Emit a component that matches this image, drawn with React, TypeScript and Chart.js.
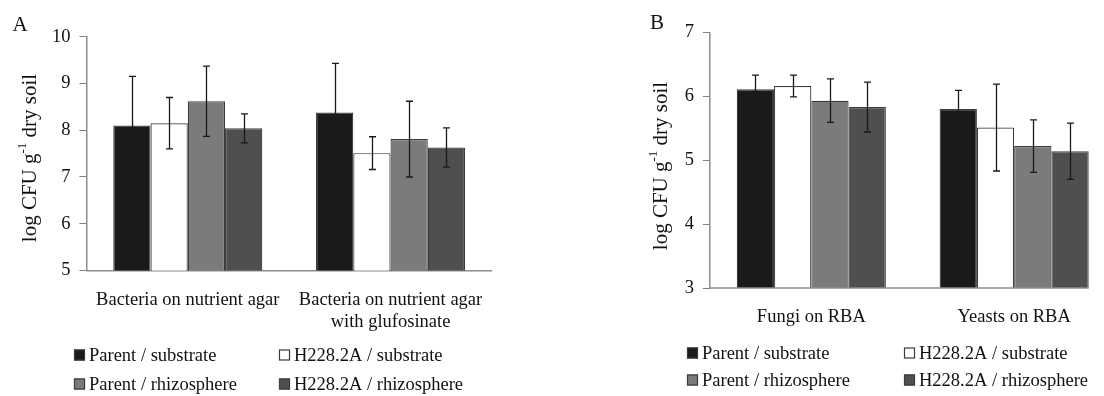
import React, { useEffect, useRef } from 'react';
import { Chart, registerables } from 'chart.js';

Chart.register(...registerables);

const FONT = '"Liberation Serif", "Times New Roman", serif';
const TEXT = '#111111';

// ---- shared series ----
const seriesLabels = ['Parent / substrate', 'H228.2A / substrate', 'Parent / rhizosphere', 'H228.2A / rhizosphere'];
const seriesColors = ['#1a1a1a', '#ffffff', '#7b7b7b', '#4f4f4f'];

// ---- panel A ----
const categoriesA = [['Bacteria on nutrient agar'], ['Bacteria on nutrient agar', 'with glufosinate']];
const parentSubstrateA = [8.10, 8.38];
const h228SubstrateA = [8.15, 7.51];
const parentRhizoA = [8.62, 7.81];
const h228RhizoA = [8.04, 7.63];
const parentSubstrateErrA = [1.05, 1.05];
const h228SubstrateErrA = [0.55, 0.35];
const parentRhizoErrA = [0.75, 0.81];
const h228RhizoErrA = [0.31, 0.42];
const yMinA = 5;
const yMaxA = 10;

// ---- panel B ----
const categoriesB = ['Fungi on RBA', 'Yeasts on RBA'];
const parentSubstrateB = [6.11, 5.80];
const h228SubstrateB = [6.16, 5.51];
const parentRhizoB = [5.93, 5.22];
const h228RhizoB = [5.83, 5.14];
const parentSubstrateErrB = [0.22, 0.29];
const h228SubstrateErrB = [0.17, 0.68];
const parentRhizoErrB = [0.34, 0.41];
const h228RhizoErrB = [0.39, 0.44];
const yMinB = 3;
const yMaxB = 7;

const yTitleMain1 = 'log CFU g';
const yTitleSup = '-1';
const yTitleMain2 = ' dry soil';

const errorBarPlugin = {
  id: 'errorBars',
  afterDatasetsDraw(chart: any, _args: any, opts: any) {
    const { ctx } = chart;
    const y = chart.scales.y;
    ctx.save();
    ctx.strokeStyle = opts.color || '#333';
    ctx.lineWidth = opts.width || 1.3;
    const cap = opts.cap || 3.5;
    chart.data.datasets.forEach((ds: any, di: number) => {
      const meta = chart.getDatasetMeta(di);
      meta.data.forEach((bar: any, i: number) => {
        const v = ds.data[i];
        const e = ds.errors[i];
        const top = y.getPixelForValue(v + e);
        const bot = y.getPixelForValue(v - e);
        const x = Math.round(bar.x) + 0.5;
        ctx.beginPath();
        ctx.moveTo(x, top);
        ctx.lineTo(x, bot);
        ctx.moveTo(x - cap, top);
        ctx.lineTo(x + cap, top);
        ctx.moveTo(x - cap, bot);
        ctx.lineTo(x + cap, bot);
        ctx.stroke();
      });
    });
    ctx.restore();
  },
};

const baselinePlugin = {
  id: 'baseline',
  afterDatasetsDraw(chart: any, _args: any, opts: any) {
    if (!opts || !opts.enabled) return;
    const { ctx, chartArea } = chart;
    const last = chart.getDatasetMeta(chart.data.datasets.length - 1);
    const lastBar = last.data[last.data.length - 1];
    const right = lastBar.x + lastBar.width / 2;
    ctx.save();
    ctx.strokeStyle = opts.color;
    ctx.lineWidth = opts.width;
    ctx.beginPath();
    ctx.moveTo(chartArea.left, chartArea.bottom);
    ctx.lineTo(right, chartArea.bottom);
    ctx.stroke();
    ctx.restore();
  },
};

const decorPlugin = {
  id: 'decor',
  afterDraw(chart: any, _args: any, opts: any) {
    const { ctx } = chart;
    ctx.save();
    // panel letter
    ctx.fillStyle = TEXT;
    ctx.font = `${opts.letterSize}px ${FONT}`;
    ctx.textAlign = 'center';
    ctx.textBaseline = 'middle';
    ctx.fillText(opts.letter, opts.letterX, opts.letterY);

    // rotated y-axis title with superscript
    const fs = opts.titleSize;
    const ss = fs * 0.62;
    ctx.font = `${fs}px ${FONT}`;
    const w1 = ctx.measureText(yTitleMain1).width;
    const w3 = ctx.measureText(yTitleMain2).width;
    ctx.font = `${ss}px ${FONT}`;
    const w2 = ctx.measureText(yTitleSup).width;
    const total = w1 + w2 + w3;
    ctx.translate(opts.titleX, opts.titleY);
    ctx.rotate(-Math.PI / 2);
    ctx.textAlign = 'left';
    ctx.textBaseline = 'middle';
    let x = -total / 2;
    ctx.font = `${fs}px ${FONT}`;
    ctx.fillText(yTitleMain1, x, 0);
    x += w1;
    ctx.font = `${ss}px ${FONT}`;
    ctx.fillText(yTitleSup, x, -fs * 0.33);
    x += w2;
    ctx.font = `${fs}px ${FONT}`;
    ctx.fillText(yTitleMain2, x, 0);
    ctx.restore();

    // legend (2 x 2)
    ctx.save();
    ctx.font = `${opts.legendSize}px ${FONT}`;
    ctx.textAlign = 'left';
    ctx.textBaseline = 'middle';
    const box = 11;
    chart.data.datasets.forEach((ds: any, i: number) => {
      const bx = opts.legendCols[i % 2];
      const by = opts.legendRows[Math.floor(i / 2)];
      ctx.fillStyle = ds.backgroundColor;
      ctx.fillRect(bx, by - box / 2, box, box);
      ctx.strokeStyle = '#3a3a3a';
      ctx.lineWidth = 1.2;
      ctx.strokeRect(bx + 0.5, by - box / 2 + 0.5, box - 1, box - 1);
      ctx.fillStyle = TEXT;
      ctx.fillText(ds.label, bx + box + 4, by + 1);
    });
    ctx.restore();
  },
};

type PanelSpec = {
  categories: any[];
  values: number[][];
  errors: number[][];
  yMin: number;
  yMax: number;
  width: number;
  height: number;
  area: { left: number; right: number; top: number; bottom: number };
  cutBaseline: boolean;
  decor: any;
};

function Panel({ spec, left }: { spec: PanelSpec; left: number }) {
  const ref = useRef<HTMLCanvasElement | null>(null);
  useEffect(() => {
    if (!ref.current) return;
    const { area, width, height } = spec;
    const chart = new Chart(ref.current, {
      type: 'bar',
      data: {
        labels: spec.categories,
        datasets: seriesLabels.map((label, i) => ({
          label,
          data: spec.values[i],
          errors: spec.errors[i],
          backgroundColor: seriesColors[i],
          borderColor: '#3c3c3c',
          borderWidth: 1.2,
          borderSkipped: false,
          categoryPercentage: 0.735,
          barPercentage: 1.0,
        })) as any,
      },
      options: {
        responsive: false,
        animation: false,
        devicePixelRatio: 1,
        layout: {
          padding: { left: 0, top: area.top, right: width - area.right, bottom: 0 },
        },
        plugins: {
          legend: { display: false },
          tooltip: { enabled: false },
          errorBars: { color: '#1a1a1a', width: 1.3, cap: 3.5 },
          baseline: { enabled: spec.cutBaseline, color: '#8c8c8c', width: 1.5 },
          decor: spec.decor,
        } as any,
        scales: {
          x: {
            type: 'category',
            offset: true,
            afterFit: (s: any) => { s.height = height - area.bottom; },
            grid: { display: true, drawOnChartArea: false, drawTicks: false },
            border: { display: !spec.cutBaseline, color: '#8c8c8c', width: 1.5 },
            ticks: {
              color: TEXT,
              font: { family: FONT, size: 18.5, lineHeight: 1.2 },
              padding: 18.5,
              maxRotation: 0,
              minRotation: 0,
              autoSkip: false,
            },
          },
          y: {
            min: spec.yMin,
            max: spec.yMax,
            afterFit: (s: any) => { s.width = area.left; },
            grid: { display: true, drawOnChartArea: false, drawTicks: true, tickLength: 7, color: '#7f7f7f', lineWidth: 1 },
            border: { display: true, color: '#8c8c8c', width: 1.5 },
            ticks: {
              stepSize: 1,
              color: TEXT,
              font: { family: FONT, size: 18.5 },
              padding: 9,
            },
          },
        },
      },
      plugins: [errorBarPlugin, baselinePlugin, decorPlugin],
    } as any);
    return () => chart.destroy();
  }, [spec]);
  return (
    <canvas
      ref={ref}
      width={spec.width}
      height={spec.height}
      style={{ position: 'absolute', left, top: 0, width: spec.width, height: spec.height }}
    />
  );
}

const specA: PanelSpec = {
  categories: categoriesA,
  values: [parentSubstrateA, h228SubstrateA, parentRhizoA, h228RhizoA],
  errors: [parentSubstrateErrA, h228SubstrateErrA, parentRhizoErrA, h228RhizoErrA],
  yMin: yMinA,
  yMax: yMaxA,
  width: 552,
  height: 396,
  area: { left: 86.4, right: 491.9, top: 36.7, bottom: 270.5 },
  cutBaseline: false,
  decor: {
    letter: 'A', letterX: 20, letterY: 25, letterSize: 21,
    titleX: 30, titleY: 158, titleSize: 21,
    legendSize: 18.5, legendCols: [74, 279], legendRows: [355, 384],
  },
};

const specB: PanelSpec = {
  categories: categoriesB,
  values: [parentSubstrateB, h228SubstrateB, parentRhizoB, h228RhizoB],
  errors: [parentSubstrateErrB, h228SubstrateErrB, parentRhizoErrB, h228RhizoErrB],
  yMin: yMinB,
  yMax: yMaxB,
  width: 566,
  height: 396,
  area: { left: 157.9, right: 563.6, top: 32.3, bottom: 288 },
  cutBaseline: true,
  decor: {
    letter: 'B', letterX: 105, letterY: 23, letterSize: 21,
    titleX: 109, titleY: 166, titleSize: 21,
    legendSize: 18.5, legendCols: [135, 352], legendRows: [353, 380],
  },
};

export default function App() {
  return (
    <div style={{ position: 'absolute', left: 0, top: 0, width: 1104, height: 396, overflow: 'hidden', background: '#ffffff' }}>
      <Panel spec={specA} left={0} />
      <Panel spec={specB} left={552} />
    </div>
  );
}
